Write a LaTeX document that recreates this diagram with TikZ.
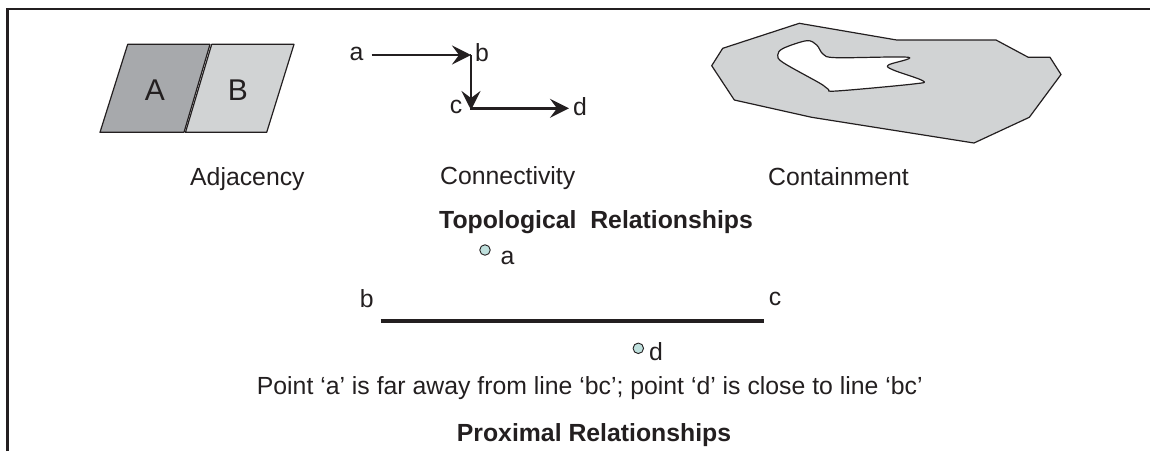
\documentclass[tikz,border=0pt]{standalone}
\usepackage{fontspec}
\setmainfont{Liberation Sans}
\usetikzlibrary{arrows.meta}
\definecolor{ink}{HTML}{231F20}
\definecolor{darkfill}{HTML}{A7A9AC}
\definecolor{lightfill}{HTML}{D1D3D4}
\definecolor{dotfill}{HTML}{BFE0DD}
\tikzset{
  lbl/.style={inner sep=0pt, text=ink, font=\fontsize{24.8}{28}\selectfont},
  basel/.style={lbl, anchor=base west},
  boldl/.style={basel, font=\fontsize{24.8}{28}\selectfont\bfseries},
  arr/.style={draw=ink, line width=2.5pt, -{Stealth[length=19pt,width=19pt,inset=7pt]}},
  shapeline/.style={draw=ink, line width=1.2pt, line join=round},
  dot/.style={circle, draw=ink, fill=dotfill, line width=0.9pt, minimum size=10.5pt, inner sep=0pt},
}
\begin{document}
\begin{tikzpicture}[x=1pt,y=-1pt]
\useasboundingbox (0,0) rectangle (1150,451);
% frame
\draw[ink, line width=2.6pt] (7.5,451) -- (7.5,9) -- (1150,9);

% Adjacency
\fill[darkfill] (127.7,44.3) -- (210,44.3) -- (184,132.3) -- (100,132.3) -- cycle;
\draw[shapeline] (127.7,44.3) -- (210,44.3) -- (184,132.3) -- (100,132.3) -- cycle;
\fill[lightfill] (211.7,44.3) -- (294,44.3) -- (266.7,132.3) -- (185.5,132.3) -- cycle;
\draw[shapeline] (211.7,44.3) -- (294,44.3) -- (266.7,132.3) -- (185.5,132.3) -- cycle;
\node[lbl, font=\fontsize{30}{34}\selectfont] (lA) at (155,90) {A};
\node[lbl, font=\fontsize{30}{34}\selectfont] (lB) at (238,90) {B};
\node[basel] (adj) at (190,185) {Adjacency};

% Connectivity
\node[lbl] (ca) at (356.5,54) {a};
\node[lbl] (cb) at (482,53) {b};
\node[lbl] (cc) at (456,107) {c};
\node[lbl] (cd) at (580,107) {d};
\coordinate (pa) at (371.7,55);
\coordinate (pb) at (471,55);
\coordinate (pc) at (471,110);
\coordinate (pc2) at (470,108.3);
\coordinate (pd) at (569,108.3);
\draw[arr] (pa) -- (pb);
\draw[ink, line width=2.5pt] (470,55) -- (pb);
\draw[arr] (pb) -- (pc);
\draw[arr] (pc2) -- (pd);
\node[basel] (conn) at (440,184.3) {Connectivity};

% Containment
\fill[lightfill, even odd rule]
  (799.3,23.3) -- (896.7,40) -- (996,40) -- (1028.3,57.3) -- (1050,57.3) -- (1061,74.5) -- (1029.3,117.3) -- (974,143) -- (811.7,117.3) -- (734.3,100) -- (711.7,65.7) -- (722.7,48.3) -- cycle
  plot[smooth cycle, tension=0.55] coordinates {(806.7,40.7) (816.7,45) (823.3,54.3) (836.7,57.7) (908.3,57.3) (888.3,65) (893.3,70) (922.7,80.7) (913.3,84) (836.7,91) (828.3,89.3) (820,83.3) (783.3,62.7) (777.7,55) (783.3,48.3)};
\draw[shapeline] (799.3,23.3) -- (896.7,40) -- (996,40) -- (1028.3,57.3) -- (1050,57.3) -- (1061,74.5) -- (1029.3,117.3) -- (974,143) -- (811.7,117.3) -- (734.3,100) -- (711.7,65.7) -- (722.7,48.3) -- cycle;
\draw[shapeline] plot[smooth cycle, tension=0.55] coordinates {(806.7,40.7) (816.7,45) (823.3,54.3) (836.7,57.7) (908.3,57.3) (888.3,65) (893.3,70) (922.7,80.7) (913.3,84) (836.7,91) (828.3,89.3) (820,83.3) (783.3,62.7) (777.7,55) (783.3,48.3)};
\node[basel] (cont) at (768,185) {Containment};

\node[boldl] (topo) at (439,228.3) {Topological\ \ Relationships};

% Proximal
\node[dot] (da) at (485,250) {};
\node[lbl] (la) at (507.5,258) {a};
\node[lbl] (lb) at (366.7,299) {b};
\node[lbl] (lc) at (775,299) {c};
\coordinate (lineb) at (380.7,320.7);
\coordinate (linec) at (764.3,320.7);
\draw[ink, line width=4pt] (lineb) -- (linec);
\node[dot] (dd) at (638.3,348.3) {};
\node[lbl] (ld) at (656,352) {d};
\node[basel] (sent) at (256.7,394.3) {Point ‘a’ is far away from line ‘bc’; point ‘d’ is close to line ‘bc’};
\node[boldl] (prox) at (456.7,441.7) {Proximal Relationships};
\end{tikzpicture}
\end{document}
